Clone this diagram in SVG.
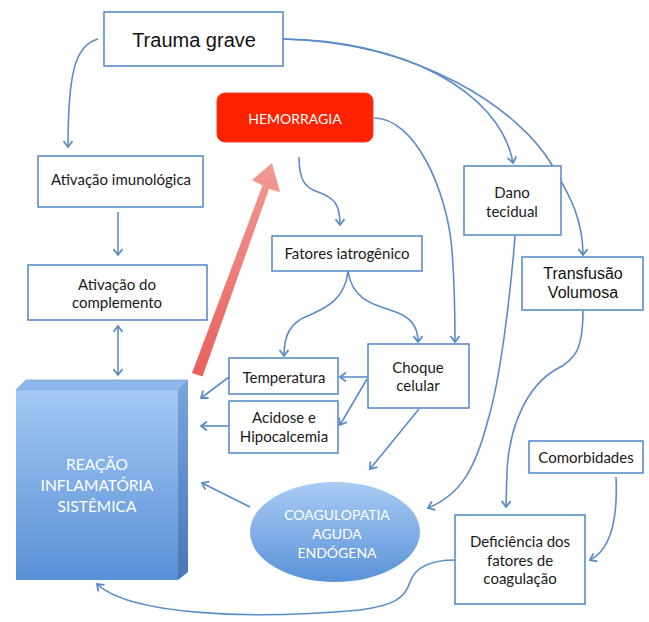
<svg xmlns="http://www.w3.org/2000/svg" width="649" height="622" viewBox="0 0 649 622">
<defs>
  <marker id="arr" markerUnits="userSpaceOnUse" markerWidth="12" markerHeight="12" refX="8" refY="6" orient="auto-start-reverse">
    <path d="M2,1.5 L8,6 L2,10.5" fill="none" stroke="#5b8cc8" stroke-width="1.8"/>
  </marker>
  <linearGradient id="boxFront" x1="0" y1="0" x2="0" y2="1">
    <stop offset="0" stop-color="#a3c8f3"/>
    <stop offset="1" stop-color="#5990d6"/>
  </linearGradient>
  <linearGradient id="boxSide" x1="0" y1="0" x2="0" y2="1">
    <stop offset="0" stop-color="#7aa6dc"/>
    <stop offset="1" stop-color="#4877b8"/>
  </linearGradient>
  <linearGradient id="ell" x1="0" y1="0" x2="0" y2="1">
    <stop offset="0" stop-color="#a9cbf3"/>
    <stop offset="1" stop-color="#5a92d8"/>
  </linearGradient>
  <linearGradient id="redArr" x1="0" y1="1" x2="0" y2="0">
    <stop offset="0" stop-color="#e8605c"/>
    <stop offset="1" stop-color="#f29a95"/>
  </linearGradient>
</defs>
<style>
  .box { fill: #ffffff; stroke: #5b8cc8; stroke-width: 1.6; }
  .t { font-family: Lato, "Open Sans", sans-serif; font-size: 15px; fill: #1a1a1a; text-anchor: middle; }
  .a { font-family: "Liberation Sans", Arial, sans-serif; fill: #111; text-anchor: middle; }
  .w { font-family: Lato, "Open Sans", sans-serif; fill: #ffffff; text-anchor: middle; }
  .c { fill: none; stroke: #5b8cc8; stroke-width: 1.6; marker-end: url(#arr); }
</style>

<g id="connectors">
  <path class="c" d="M98,39 C76,45 68,70 68,147"/>
  <path class="c" d="M283,39 C400,40 500,90 513,163"/>
  <path class="c" d="M283,39 C420,42 520,110 552,165 C566,190 583,215 583,255"/>
  <path class="c" d="M299,157 C299,180 305,188 318,192 C335,198 340,205 340,225"/>
  <path class="c" d="M374,118 C415,118 447,190 452,250 C455,290 455,320 455,342"/>
  <path class="c" d="M348,271 C345,300 325,308 310,315 C290,322 284,335 284,356"/>
  <path class="c" d="M348,271 C352,300 375,305 390,310 C410,316 418,325 418,342"/>
  <path class="c" d="M118,212 L118,255"/>
  <path class="c" d="M118,326 L118,375" marker-start="url(#arr)"/>
  <path class="c" d="M368,377 L340,377"/>
  <path class="c" d="M367,379 L340,425"/>
  <path class="c" d="M229,377 L201,398"/>
  <path class="c" d="M229,426 L201,426"/>
  <path class="c" d="M250,507 L202,483"/>
  <path class="c" d="M419,409 L370,469"/>
  <path class="c" d="M515,236 C510,300 500,380 488,420 C475,470 460,495 428,508"/>
  <path class="c" d="M583,311 C583,350 575,360 555,370 C530,385 510,420 507,470 L506,507"/>
  <path class="c" d="M616,477 C618,520 610,550 590,560"/>
  <path class="c" d="M455,560 C430,560 415,568 410,582 C405,598 395,605 360,610 C250,620 130,615 97,584"/>
</g>

<g id="reacao">
  <polygon points="16,390 26,380 188,380 178,390" fill="#8db6ea" stroke="#7aa4d8" stroke-width="0.8"/>
  <polygon points="178,390 188,380 188,572 178,580" fill="url(#boxSide)"/>
  <rect x="16" y="390" width="162" height="190" fill="url(#boxFront)"/>
  <text class="w" font-size="15.5" x="97" y="470">REAÇÃO</text>
  <text class="w" font-size="15.5" x="97" y="491">INFLAMATÓRIA</text>
  <text class="w" font-size="15.5" x="97" y="512">SISTÊMICA</text>
</g>

<g id="red-arrow">
  <path d="M192,373 L202.5,376.5 L269,189 L280,192 L272,163 L252,180 L262.5,185.5 Z" fill="url(#redArr)"/>
</g>

<g id="trauma">
  <rect class="box" x="104" y="12" width="179" height="54"/>
  <text class="a" font-size="20" x="194" y="47">Trauma grave</text>
</g>

<g id="hemorragia">
  <rect x="217" y="93" width="156" height="49" rx="8" fill="#ff2200" stroke="#e8402a" stroke-width="1"/>
  <text class="w" font-size="14" x="295" y="124">HEMORRAGIA</text>
</g>

<g id="imuno">
  <rect class="box" x="38" y="156" width="165" height="51"/>
  <text class="t" x="121" y="185">Ativação imunológica</text>
</g>

<g id="complemento">
  <rect class="box" x="28" y="265" width="179" height="55"/>
  <text class="t" x="117" y="290">Ativação do</text>
  <text class="t" x="117" y="308">complemento</text>
</g>

<g id="fatores">
  <rect class="box" x="272" y="236" width="150" height="35"/>
  <text class="t" x="347" y="259">Fatores iatrogênico</text>
</g>

<g id="dano">
  <rect class="box" x="464" y="166" width="97" height="69"/>
  <text class="t" x="512" y="198">Dano</text>
  <text class="t" x="512" y="217">tecidual</text>
</g>

<g id="transfusao">
  <rect class="box" x="522" y="257" width="121" height="53"/>
  <text class="a" font-size="16" x="583" y="279">Transfusão</text>
  <text class="a" font-size="16" x="583" y="298">Volumosa</text>
</g>

<g id="temperatura">
  <rect class="box" x="229" y="358" width="109" height="36"/>
  <text class="t" x="284" y="383">Temperatura</text>
</g>

<g id="acidose">
  <rect class="box" x="229" y="401" width="109" height="52"/>
  <text class="t" x="284" y="423">Acidose e</text>
  <text class="t" x="284" y="442">Hipocalcemia</text>
</g>

<g id="choque">
  <rect class="box" x="368" y="344" width="101" height="64"/>
  <text class="t" x="418" y="373">Choque</text>
  <text class="t" x="418" y="391">celular</text>
</g>

<g id="comorbidades">
  <rect class="box" x="529" y="441" width="114" height="32"/>
  <text class="t" x="586" y="463">Comorbidades</text>
</g>

<g id="deficiencia">
  <rect class="box" x="455" y="515" width="130" height="89"/>
  <text class="t" x="520" y="547">Deficiência dos</text>
  <text class="t" x="520" y="566">fatores de</text>
  <text class="t" x="520" y="584">coagulação</text>
</g>

<g id="coagulopatia">
  <ellipse cx="335" cy="532" rx="85" ry="50" fill="url(#ell)"/>
  <text class="w" font-size="14" x="337" y="520">COAGULOPATIA</text>
  <text class="w" font-size="14" x="337" y="539">AGUDA</text>
  <text class="w" font-size="14" x="337" y="558">ENDÓGENA</text>
</g>
</svg>
